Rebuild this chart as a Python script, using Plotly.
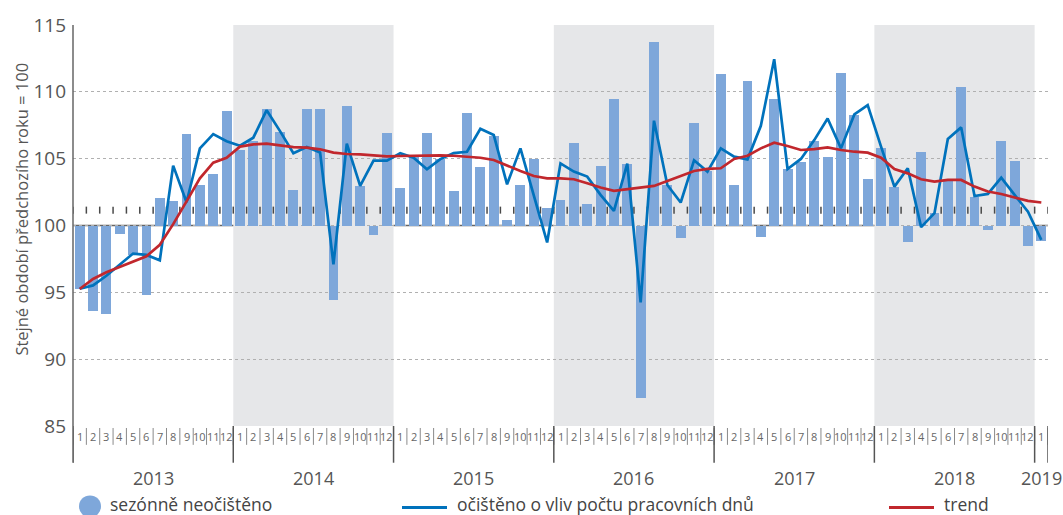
import plotly.graph_objects as go

# ---------------- data ----------------
years = [2013, 2014, 2015, 2016, 2017, 2018, 2019]
months_per_year = [12, 12, 12, 12, 12, 12, 1]
month_labels = [str(m) for y, n in zip(years, months_per_year) for m in range(1, n + 1)]

unadjusted = [
    95.25, 93.63, 93.40, 99.38, 97.80, 94.78, 102.04, 101.87, 106.84, 103.03, 103.88, 108.56,
    105.62, 106.32, 108.70, 106.97, 102.64, 108.68, 108.68, 94.45, 108.96, 102.96, 99.30, 106.89,
    102.79, 105.20, 106.94, 105.00, 102.60, 108.38, 104.38, 106.72, 100.42, 103.03, 104.97, 101.34,
    101.89, 106.14, 101.59, 104.43, 109.43, 104.63, 87.10, 113.70, 103.03, 99.05, 107.66, 104.08,
    111.35, 103.03, 110.80, 99.13, 109.50, 104.23, 104.78, 106.34, 105.15, 111.39, 108.26, 103.46,
    105.77, 102.91, 98.73, 105.47, 100.95, 103.30, 110.37, 102.16, 99.63, 106.34, 104.83, 98.43,
    98.86,
]
working_day_adj = [
    95.27, 95.52, 96.24, 97.10, 97.90, 97.80, 97.40, 104.48, 101.74, 105.77, 106.84, 106.30,
    105.97, 106.57, 108.63, 107.06, 105.40, 105.87, 105.47, 97.10, 106.12, 102.96, 104.85, 104.85,
    105.40, 105.07, 104.20, 104.97, 105.42, 105.52, 107.24, 106.77, 103.08, 105.77, 102.30, 98.73,
    104.65, 104.03, 103.66, 102.29, 101.09, 104.63, 94.25, 107.84, 103.03, 101.72, 104.88, 104.03,
    105.77, 105.15, 104.95, 107.46, 112.44, 104.23, 104.98, 106.39, 108.01, 105.77, 108.31, 109.00,
    105.90, 102.91, 104.28, 99.88, 100.92, 106.47, 107.34, 102.21, 102.36, 103.58, 102.29, 101.04,
    98.93,
]
trend = [
    95.25, 96.00, 96.50, 96.90, 97.30, 97.70, 98.56, 100.10, 101.80, 103.53, 104.70, 105.07,
    105.90, 106.07, 106.12, 105.97, 105.87, 105.82, 105.70, 105.45, 105.35, 105.32, 105.27, 105.17,
    105.20, 105.22, 105.22, 105.25, 105.22, 105.17, 105.07, 104.90, 104.48, 104.08, 103.70, 103.53,
    103.53, 103.46, 103.16, 102.84, 102.59, 102.71, 102.86, 102.96, 103.33, 103.73, 104.08, 104.23,
    104.28, 104.98, 105.22, 105.77, 106.19, 105.95, 105.65, 105.72, 105.85, 105.65, 105.52, 105.45,
    105.07, 104.23, 103.90, 103.46, 103.28, 103.41, 103.41, 102.91, 102.54, 102.36, 102.09, 101.84,
    101.72,
]
y_ticks = [85, 90, 95, 100, 105, 110, 115]
base_value = 100
marker_level = 101.15
shaded_years = [2014, 2016, 2018]
legend_names = ["sezónně neočištěno", "očištěno o vliv počtu pracovních dnů", "trend"]
y_title = "Stejné období předchozího roku = 100"

# ---------------- styling / geometry ----------------
W, H = 1063, 515
ML, MR, MT, MB = 73, 15, 22, 89
PW = W - ML - MR
PH = H - MT - MB
BOTTOM = MT + PH

def py(p):  # pixel y -> paper y
    return (BOTTOM - p) / PH

def px(p):  # pixel x -> paper x
    return (p - ML) / PW

FONT = "Open Sans"
TXT = "#555555"
BAR_C = "#7ea7da"
BLUE = "#0072bc"
RED = "#c1272d"
BAND = "#e6e7e9"

n = len(unadjusted)
xs = list(range(n))

# year start indices
starts = []
s = 0
for cnt in months_per_year:
    starts.append(s)
    s += cnt

fig = go.Figure()

fig.add_trace(go.Bar(
    x=xs, y=[v - base_value for v in unadjusted], base=base_value,
    width=0.74, marker=dict(color=BAR_C, line=dict(width=0)),
    showlegend=False, hoverinfo="skip",
))
fig.add_trace(go.Scatter(
    x=[i + 0.5 for i in range(-1, n)], y=[marker_level] * (n + 1),
    mode="markers", marker=dict(symbol="line-ns", size=5, line=dict(width=1.5, color="#4a4a4a")),
    showlegend=False, hoverinfo="skip",
))
fig.add_trace(go.Scatter(
    x=xs, y=working_day_adj, mode="lines", line=dict(color=BLUE, width=2.7),
    showlegend=False, hoverinfo="skip",
))
fig.add_trace(go.Scatter(
    x=xs, y=trend, mode="lines", line=dict(color=RED, width=2.7),
    showlegend=False, hoverinfo="skip",
))

shapes = []
# shaded years
for yr in shaded_years:
    i = years.index(yr)
    shapes.append(dict(type="rect", xref="x", yref="y", x0=starts[i] - 0.5,
                       x1=starts[i] + months_per_year[i] - 0.5, y0=y_ticks[0], y1=y_ticks[-1],
                       fillcolor=BAND, line=dict(width=0), layer="below"))
# base line at 100
shapes.append(dict(type="line", xref="paper", yref="y", x0=0, x1=1, y0=base_value, y1=base_value,
                   line=dict(color="#666666", width=1.5), layer="below"))
# month separators
for i in range(n + 1):
    shapes.append(dict(type="line", xref="x", yref="paper", x0=i - 0.5, x1=i - 0.5,
                       y0=py(428), y1=py(445), line=dict(color="#8a8a8a", width=1)))
# year separators
for b in starts + [n]:
    shapes.append(dict(type="line", xref="x", yref="paper", x0=b - 0.5, x1=b - 0.5,
                       y0=py(426), y1=py(463), line=dict(color="#555555", width=1.5)))
# legend symbols
shapes.append(dict(type="circle", xref="paper", yref="paper", xsizemode="pixel", ysizemode="pixel",
                   xanchor=px(90), yanchor=py(507), x0=-11, x1=11, y0=-11, y1=11,
                   fillcolor=BAR_C, line=dict(width=0)))
shapes.append(dict(type="line", xref="paper", yref="paper", x0=px(402), x1=px(447),
                   y0=py(508), y1=py(508), line=dict(color=BLUE, width=3)))
shapes.append(dict(type="line", xref="paper", yref="paper", x0=px(889), x1=px(934),
                   y0=py(508), y1=py(508), line=dict(color=RED, width=3)))

ann = []
for i, lab in enumerate(month_labels):
    ann.append(dict(x=i, y=py(437), xref="x", yref="paper", text=lab, showarrow=False,
                    font=dict(family=FONT, size=11, color="#666666"), xanchor="center", yanchor="middle"))
for i, yr in enumerate(years):
    cx = starts[i] + (months_per_year[i] - 1) / 2
    ann.append(dict(x=cx, y=py(478), xref="x", yref="paper", text=str(yr), showarrow=False,
                    font=dict(family=FONT, size=18, color=TXT), xanchor="center", yanchor="middle"))
ann.append(dict(x=px(22), y=py(208), xref="paper", yref="paper", text=y_title, showarrow=False,
                textangle=-90, font=dict(family=FONT, size=16.5, color=TXT),
                xanchor="center", yanchor="middle"))
for name, lx in zip(legend_names, [108, 455, 942]):
    ann.append(dict(x=px(lx), y=py(505), xref="paper", yref="paper", text=name, showarrow=False,
                    font=dict(family=FONT, size=17.5, color="#444444"), xanchor="left", yanchor="middle"))

fig.update_layout(
    width=W, height=H, margin=dict(l=ML, r=MR, t=MT, b=MB),
    plot_bgcolor="white", paper_bgcolor="white",
    shapes=shapes, annotations=ann, showlegend=False, bargap=0,
    xaxis=dict(range=[-0.5, n - 0.5], showticklabels=False, ticks="", showgrid=False,
               zeroline=False, showline=False, fixedrange=True),
    yaxis=dict(range=[y_ticks[0], y_ticks[-1]], tickvals=y_ticks, ticks="",
               tickfont=dict(family=FONT, size=19, color=TXT), ticklabelstandoff=6,
               showgrid=True, gridcolor="#b0b0b0", griddash="dot", gridwidth=1,
               zeroline=False, showline=False, fixedrange=True),
)
# y axis line extended down through the label area
fig.add_shape(type="line", xref="paper", yref="paper", x0=0, x1=0, y0=py(463), y1=1,
              line=dict(color="#666666", width=1.5))

fig.write_html(
    "out.html",
    config={"displayModeBar": False},
    post_script="document.body.style.margin='0';document.body.style.padding='0';"
                "document.body.style.overflow='hidden';",
)
